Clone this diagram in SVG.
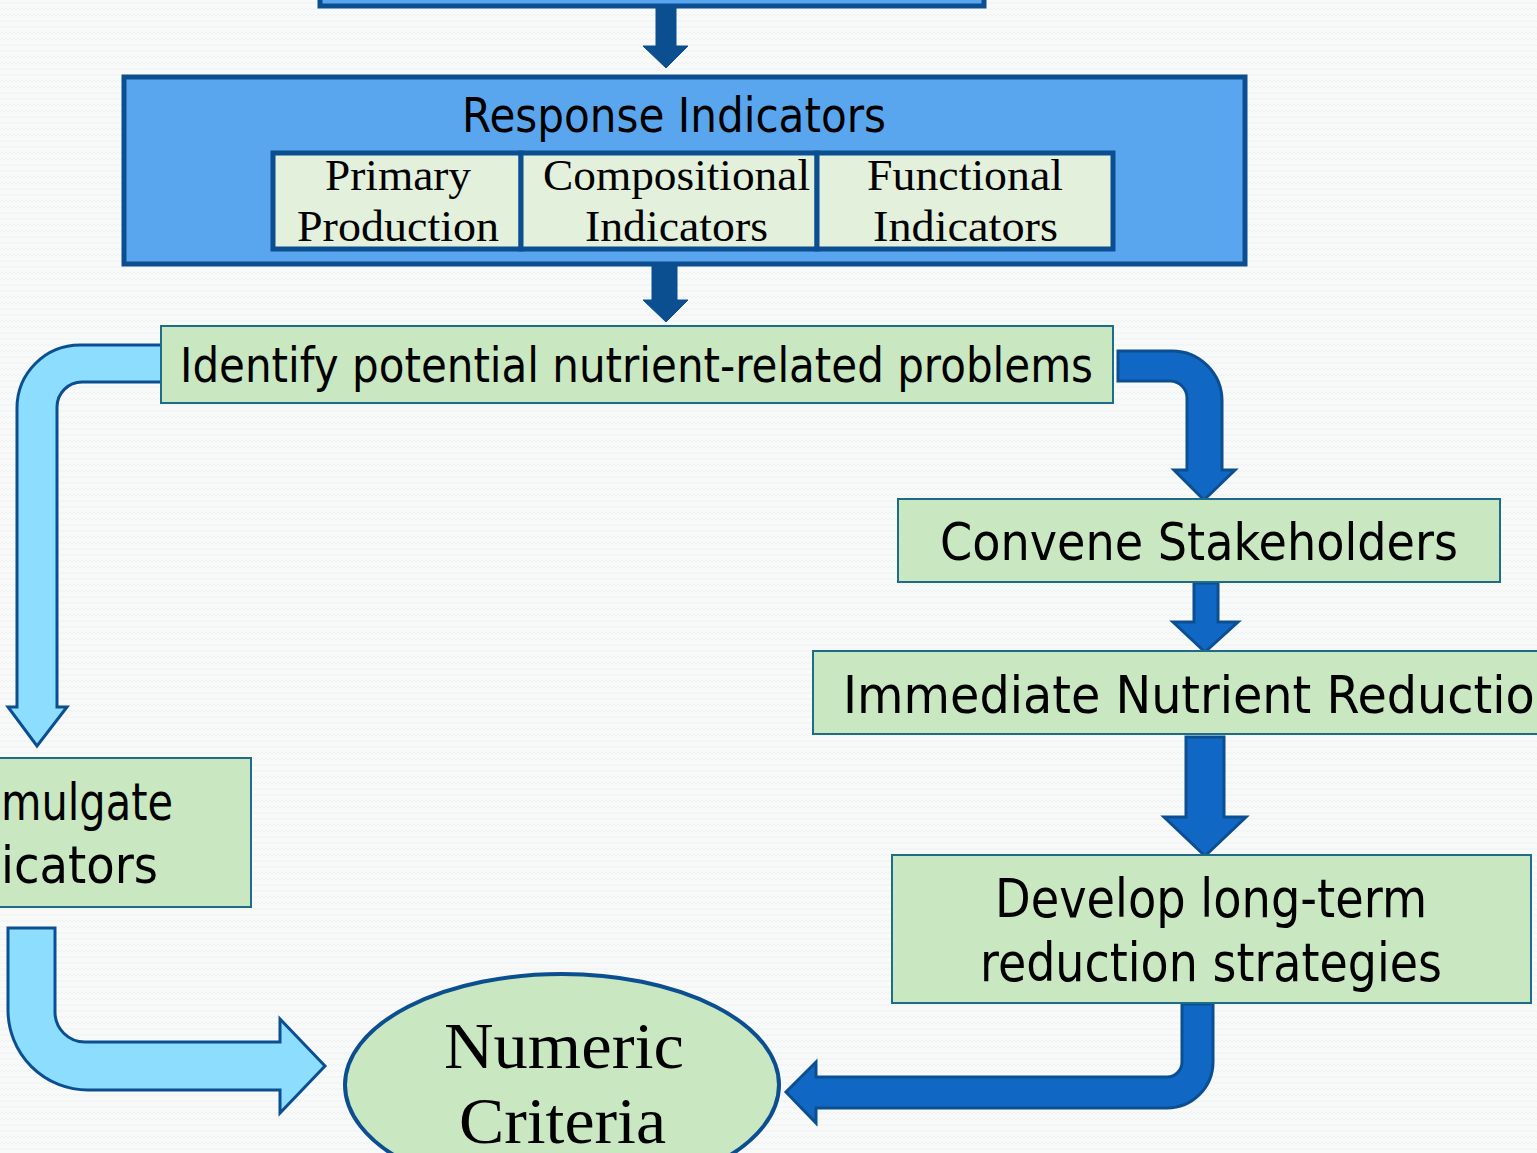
<svg xmlns="http://www.w3.org/2000/svg" width="1537" height="1153" viewBox="0 0 1537 1153">
<defs>
<pattern id="bgp" width="8" height="6" patternUnits="userSpaceOnUse">
<rect width="8" height="6" fill="#F8F9F9"/>
<path d="M0 4 L2 2 L4 4 L6 2 L8 4" fill="none" stroke="#EEF0F0" stroke-width="0.8"/>
</pattern>
<style>
.big{fill:#5AA6EE;stroke:#0B4F91;stroke-width:5}
.sub{fill:#E2F0DC;stroke:#0B4F91;stroke-width:5}
.grn{fill:#C9E7C1;stroke:#1D6C89;stroke-width:2}
.sans{font-family:"DejaVu Sans","Liberation Sans",sans-serif;fill:#000}
.serif{font-family:"Liberation Serif","DejaVu Serif",serif;fill:#000}
.solid{fill:#0B4F91;stroke:#0B4F91;stroke-width:1}
.dark{fill:#1068C4;stroke:#0B4F91;stroke-width:3;stroke-linejoin:miter}
.light{fill:#8CDDFE;stroke:#0B4F91;stroke-width:3;stroke-linejoin:miter}
</style>
</defs>
<rect width="1537" height="1153" fill="url(#bgp)"/>

<g id="connectors">
<path class="solid" d="M656 6 L676 6 L676 46 L688 46 L666 68 L643 46 L656 46 Z"/>
<path class="solid" d="M652 259 L677 259 L677 300 L688 300 L666 322 L643 300 L652 300 Z"/>
<path class="light" d="M162 345 L80 345 A63 63 0 0 0 17 408 L17 707 L8 707 L37 746 L67 707 L57 707 L57 407 A25 25 0 0 1 82 382 L162 382 Z"/>
<path class="dark" d="M1118 351 L1172 351 A50 50 0 0 1 1222 401 L1222 470 L1235 470 L1204 500 L1174 470 L1187 470 L1187 398 A17 17 0 0 0 1170 381 L1118 381 Z"/>
<path class="dark" d="M1194 583 L1218 583 L1218 622 L1238 622 L1205 652 L1173 622 L1194 622 Z"/>
<path class="dark" d="M1186 737 L1224 737 L1224 817 L1246 817 L1205 856 L1164 817 L1186 817 Z"/>
<path class="dark" d="M1182 1004 L1213 1004 L1213 1062 A46 46 0 0 1 1167 1108 L816 1108 L816 1123 L786 1092 L816 1062 L816 1077 L1167 1077 A15 15 0 0 0 1182 1062 Z"/>
<path class="light" d="M8 928 L55 928 L55 1012 A30 30 0 0 0 85 1042 L280 1042 L280 1019 L325 1066 L280 1113 L280 1090 L88 1090 A80 80 0 0 1 8 1010 Z"/>
</g>

<g id="top-box">
<rect class="big" x="320" y="-40" width="664" height="46"/>
</g>

<g id="response-indicators">
<rect class="big" x="124" y="77" width="1121" height="187"/>
<text class="sans" x="462" y="132" font-size="48" textLength="424" lengthAdjust="spacingAndGlyphs">Response Indicators</text>
</g>
<g id="primary-production">
<rect class="sub" x="273" y="153" width="248" height="96"/>
<text class="serif" x="325" y="190" font-size="44" textLength="146" lengthAdjust="spacingAndGlyphs">Primary</text>
<text class="serif" x="297" y="241" font-size="44" textLength="202" lengthAdjust="spacingAndGlyphs">Production</text>
</g>
<g id="compositional-indicators">
<rect class="sub" x="521" y="153" width="296" height="96"/>
<text class="serif" x="543" y="190" font-size="44" textLength="267" lengthAdjust="spacingAndGlyphs">Compositional</text>
<text class="serif" x="585" y="241" font-size="44" textLength="183" lengthAdjust="spacingAndGlyphs">Indicators</text>
</g>
<g id="functional-indicators">
<rect class="sub" x="817" y="153" width="296" height="96"/>
<text class="serif" x="867" y="190" font-size="44" textLength="196" lengthAdjust="spacingAndGlyphs">Functional</text>
<text class="serif" x="873" y="241" font-size="44" textLength="185" lengthAdjust="spacingAndGlyphs">Indicators</text>
</g>

<g id="identify">
<rect class="grn" x="161" y="326" width="952" height="77"/>
<text class="sans" x="180" y="382" font-size="48" textLength="913" lengthAdjust="spacingAndGlyphs">Identify potential nutrient-related problems</text>
</g>

<g id="convene">
<rect class="grn" x="898" y="499" width="602" height="83"/>
<text class="sans" x="940" y="560" font-size="52" textLength="518" lengthAdjust="spacingAndGlyphs">Convene Stakeholders</text>
</g>

<g id="immediate">
<rect class="grn" x="813" y="651" width="740" height="83"/>
<text class="sans" x="843" y="713" font-size="52" textLength="722" lengthAdjust="spacingAndGlyphs">Immediate Nutrient Reduction</text>
</g>

<g id="develop">
<rect class="grn" x="892" y="855" width="639" height="148"/>
<text class="sans" x="995" y="917" font-size="53" textLength="432" lengthAdjust="spacingAndGlyphs">Develop long-term</text>
<text class="sans" x="980" y="981" font-size="53" textLength="462" lengthAdjust="spacingAndGlyphs">reduction strategies</text>
</g>

<g id="promulgate">
<rect class="grn" x="-10" y="758" width="261" height="149"/>
<text class="sans" x="1" y="820" font-size="51" textLength="172" lengthAdjust="spacingAndGlyphs">mulgate</text>
<text class="sans" x="1" y="883" font-size="51" textLength="157" lengthAdjust="spacingAndGlyphs">icators</text>
</g>

<g id="numeric-criteria">
<ellipse cx="562" cy="1085" rx="217" ry="111" fill="#C9E7C1" stroke="#0B4F91" stroke-width="4"/>
<text class="serif" x="444" y="1068" font-size="66" textLength="240" lengthAdjust="spacingAndGlyphs">Numeric</text>
<text class="serif" x="459" y="1143" font-size="66" textLength="207" lengthAdjust="spacingAndGlyphs">Criteria</text>
</g>
</svg>
